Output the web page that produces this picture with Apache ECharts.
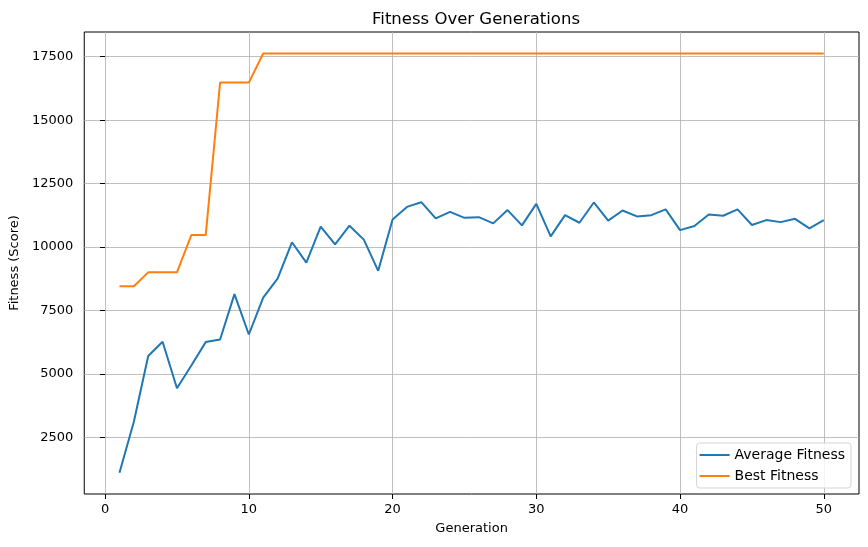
<!DOCTYPE html>
<html>
<head>
<meta charset="utf-8">
<title>Fitness Over Generations</title>
<script src="https://cdn.jsdelivr.net/npm/echarts@6/dist/echarts.min.js"></script>
<style>
  html, body { margin: 0; padding: 0; background: #fff; }
  #chart { width: 868px; height: 547px; }
</style>
</head>
<body>
<div id="chart"></div>
<script>
// generations 1..50
var generations = [
  1, 2, 3, 4, 5, 6, 7, 8, 9, 10,
  11, 12, 13, 14, 15, 16, 17, 18, 19, 20,
  21, 22, 23, 24, 25, 26, 27, 28, 29, 30,
  31, 32, 33, 34, 35, 36, 37, 38, 39, 40,
  41, 42, 43, 44, 45, 46, 47, 48, 49, 50
]
var averageFitness = [
  1100, 3110, 5700, 6265, 4430, 5330, 6250, 6350, 8140, 6550,
  8000, 8750, 10185, 9385, 10800, 10100, 10840, 10290, 9060, 11085,
  11580, 11765, 11125, 11385, 11150, 11175, 10930, 11455, 10850, 11700,
  10420, 11255, 10955, 11755, 11040, 11440, 11205, 11255, 11480, 10665,
  10825, 11280, 11230, 11480, 10865, 11060, 10980, 11110, 10735, 11060
]
var bestFitness = [
  8450, 8450, 9000, 9000, 9000, 10470, 10470, 16480, 16480, 16480,
  17630, 17630, 17630, 17630, 17630, 17630, 17630, 17630, 17630, 17630,
  17630, 17630, 17630, 17630, 17630, 17630, 17630, 17630, 17630, 17630,
  17630, 17630, 17630, 17630, 17630, 17630, 17630, 17630, 17630, 17630,
  17630, 17630, 17630, 17630, 17630, 17630, 17630, 17630, 17630, 17630
]
var seriesNames = ['Average Fitness', 'Best Fitness']
var xTicks = [0, 10, 20, 30, 40, 50]
var yTicks = [2500, 5000, 7500, 10000, 12500, 15000, 17500]

function pairs(vals) {
  return generations.map(function(g, i) { return [g, vals[i]] })
}

var font = 'DejaVu Sans'
var chart = echarts.init(document.getElementById('chart'))

var option = {
  backgroundColor: '#fff',
  animation: false,
  textStyle: { fontFamily: font },
  title: {
    text: 'Fitness Over Generations',
    left: 471,
    top: 6,
    textAlign: 'center',
    textStyle: { fontFamily: font, fontSize: 16.5, fontWeight: 'normal', color: '#000' }
  },
  grid: {
    left: 83,
    right: 9,
    top: 32,
    bottom: 53,
    show: true,
    borderColor: '#000',
    borderWidth: 1,
    backgroundColor: 'transparent'
  },
  legend: {
    orient: 'vertical',
    right: 17,
    bottom: 59,
    data: seriesNames,
    icon: 'rect',
    itemWidth: 30,
    itemHeight: 2,
    itemGap: 7,
    padding: [5, 6, 5, 3],
    backgroundColor: 'rgba(255,255,255,0.8)',
    borderColor: '#d5d5d5',
    borderWidth: 1,
    borderRadius: 3,
    textStyle: { fontFamily: font, fontSize: 14, color: '#000' }
  },
  xAxis: {
    type: 'value',
    min: -1.45,
    max: 52.45,
    name: 'Generation',
    nameLocation: 'middle',
    nameGap: 28,
    nameTextStyle: { fontFamily: font, fontSize: 13, color: '#000' },
    axisLine: { show: false },
    axisTick: { show: true, inside: false, length: 5, customValues: xTicks, lineStyle: { color: '#000' } },
    axisLabel: { customValues: xTicks, margin: 9, fontSize: 13, color: '#000', fontFamily: font },
    splitLine: { show: true, lineStyle: { color: '#b0b0b0', width: 0.8 } }
  },
  yAxis: {
    type: 'value',
    min: 262,
    max: 18475,
    name: 'Fitness (Score)',
    nameLocation: 'middle',
    nameGap: 61,
    nameTextStyle: { fontFamily: font, fontSize: 13, color: '#000' },
    axisLine: { show: false },
    axisTick: { show: true, inside: false, length: 5, customValues: yTicks, lineStyle: { color: '#000' } },
    axisLabel: {
      customValues: yTicks,
      formatter: function(v) { return String(v) },
      margin: 11, fontSize: 13, color: '#000', fontFamily: font
    },
    splitLine: { show: true, lineStyle: { color: '#b0b0b0', width: 0.8 } }
  },
  series: [
    {
      name: seriesNames[0],
      type: 'line',
      data: pairs(averageFitness),
      showSymbol: false,
      symbol: 'none',
      color: '#1f77b4',
      lineStyle: { width: 2, color: '#1f77b4' }
    },
    {
      name: seriesNames[1],
      type: 'line',
      data: pairs(bestFitness),
      showSymbol: false,
      symbol: 'none',
      color: '#ff7f0e',
      lineStyle: { width: 2, color: '#ff7f0e' }
    }
  ]
}

chart.setOption(option)
</script>
</body>
</html>
